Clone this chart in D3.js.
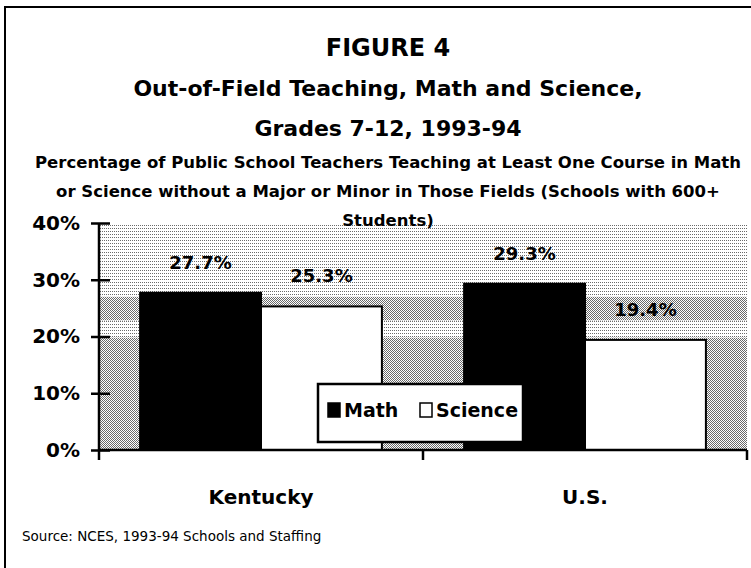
<!DOCTYPE html>
<html lang="en">
<head>
<meta charset="utf-8">
<title>Figure 4</title>
<script type="text/javascript" src="https://d3js.org/d3.v7.min.js"></script>
<style>
  body { margin: 0; background: #ffffff; }
  svg text { font-family: "Comic Sans MS", "DejaVu Sans", sans-serif; fill: #000; }
</style>
</head>
<body>
<div id="container"></div>
<script type="text/javascript">
// chart data
var categories = ["Kentucky", "U.S."];
var seriesNames = ["Math", "Science"];
var mathValues = [0.277, 0.293];
var scienceValues = [0.253, 0.194];
var yTicks = [0, 0.1, 0.2, 0.3, 0.4];

var titleLines = ["Out-of-Field Teaching, Math and Science,", "Grades 7-12, 1993-94"];
var subtitleLines = [
  "Percentage of Public School Teachers Teaching at Least One Course in Math",
  "or Science without a Major or Minor in Those Fields (Schools with 600+",
  "Students)"
];
var sourceText = "Source:  NCES, 1993-94 Schools and Staffing";

var w = 751, h = 568;
var svg = d3.select("#container").append("svg")
  .attr("width", w).attr("height", h)
  .style("background-color", "#ffffff");

// halftone-ish fills for the plot background
var defs = svg.append("defs");
var light = defs.append("pattern").attr("id", "light")
  .attr("patternUnits", "userSpaceOnUse").attr("width", 2).attr("height", 3);
light.append("rect").attr("width", 2).attr("height", 3).attr("fill", "#ffffff");
light.append("rect").attr("width", 1).attr("height", 1).attr("fill", "#6a6a6a");
var dense = defs.append("pattern").attr("id", "dense")
  .attr("patternUnits", "userSpaceOnUse").attr("width", 2).attr("height", 2);
dense.append("rect").attr("width", 2).attr("height", 2).attr("fill", "#ffffff");
dense.append("rect").attr("width", 1).attr("height", 1).attr("fill", "#6a6a6a");
dense.append("rect").attr("x", 1).attr("y", 1).attr("width", 1).attr("height", 1).attr("fill", "#6a6a6a");

// outer frame (runs off the right and bottom edges)
svg.append("rect")
  .attr("x", 5).attr("y", 7).attr("width", 800).attr("height", 620)
  .attr("fill", "none").attr("stroke", "#000").attr("stroke-width", 2);

// scales
var plotLeft = 99, plotRight = 747, plotTop = 223, plotBottom = 450;
var x0 = d3.scaleBand().domain(categories).range([plotLeft, plotRight]).paddingInner(0).paddingOuter(0);
var x1 = d3.scaleBand().domain(seriesNames).range([0, x0.bandwidth()]).paddingInner(0).paddingOuter(0.34);
var y = d3.scaleLinear().domain([0, 0.4]).range([plotBottom, plotTop]);

// plot background bands
var bgBands = [
  { from: 0.27, to: 0.4, fill: "url(#light)" },
  { from: 0.228, to: 0.27, fill: "url(#dense)" },
  { from: 0.198, to: 0.228, fill: "url(#light)" },
  { from: 0, to: 0.198, fill: "url(#dense)" }
];
svg.append("g").selectAll("rect").data(bgBands).enter().append("rect")
  .attr("x", plotLeft).attr("width", plotRight - plotLeft)
  .attr("y", function (d) { return y(d.to); })
  .attr("height", function (d) { return y(d.from) - y(d.to); })
  .attr("fill", function (d) { return d.fill; });

// titles (drawn after the background so "Students)" sits on top)
var cx = 388;
svg.append("text").attr("x", cx).attr("y", 56).attr("text-anchor", "middle")
  .style("font-size", "24px").style("font-weight", "bold").text("FIGURE 4");
svg.selectAll("text.title").data(titleLines).enter().append("text")
  .attr("class", "title")
  .attr("x", cx).attr("y", function (d, i) { return 96 + i * 40; })
  .attr("text-anchor", "middle")
  .style("font-size", "22px").style("font-weight", "bold")
  .text(function (d) { return d; });
svg.selectAll("text.sub").data(subtitleLines).enter().append("text")
  .attr("class", "sub")
  .attr("x", cx).attr("y", function (d, i) { return 168 + i * 29; })
  .attr("text-anchor", "middle")
  .style("font-size", "16.5px").style("font-weight", "bold")
  .text(function (d) { return d; });

// bars
var rows = categories.map(function (c, i) {
  return { cat: c, values: [
    { key: "Math", v: mathValues[i] },
    { key: "Science", v: scienceValues[i] }
  ] };
});
var groups = svg.append("g").selectAll("g").data(rows).enter().append("g")
  .attr("transform", function (d) { return "translate(" + x0(d.cat) + ",0)"; });
groups.selectAll("rect").data(function (d) { return d.values; }).enter().append("rect")
  .attr("x", function (d) { return x1(d.key); })
  .attr("y", function (d) { return y(d.v); })
  .attr("width", x1.bandwidth())
  .attr("height", function (d) { return y(0) - y(d.v); })
  .attr("fill", function (d) { return d.key === "Math" ? "#000" : "#fff"; })
  .attr("stroke", "#000").attr("stroke-width", 2);
groups.selectAll("text").data(function (d) { return d.values; }).enter().append("text")
  .attr("x", function (d) { return x1(d.key) + x1.bandwidth() / 2; })
  .attr("y", function (d) { return y(d.v) - 24; })
  .attr("text-anchor", "middle")
  .style("font-size", "18px").style("font-weight", "bold")
  .text(function (d) { return d3.format(".1%")(d.v); });

// y axis, ticks cross the line
var yAxis = svg.append("g").attr("transform", "translate(" + plotLeft + ",0)")
  .call(d3.axisLeft(y).tickValues(yTicks).tickFormat(d3.format(".0%")).tickSize(8).tickPadding(11));
yAxis.select(".domain").attr("stroke-width", 2.5).attr("d", "M0," + plotTop + "V" + plotBottom);
yAxis.selectAll(".tick line").attr("x1", 11).attr("stroke-width", 2.5);
yAxis.selectAll(".tick text").style("font-size", "20px").style("font-weight", "bold")
  .style("font-family", null);

// x axis
var xAxis = svg.append("g").attr("transform", "translate(0," + plotBottom + ")")
  .call(d3.axisBottom(x0).tickSize(0).tickPadding(40));
xAxis.select(".domain").attr("stroke-width", 2.5).attr("d", "M" + plotLeft + ",0H" + plotRight);
xAxis.selectAll(".tick text").style("font-size", "20px").style("font-weight", "bold")
  .style("font-family", null);
var edges = [x0(categories[0])].concat(categories.map(function (c) { return x0(c) + x0.bandwidth(); }));
xAxis.selectAll("line.edge").data(edges).enter().append("line")
  .attr("class", "edge")
  .attr("x1", function (d) { return d; }).attr("x2", function (d) { return d; })
  .attr("y1", 0).attr("y2", 10)
  .attr("stroke", "#000").attr("stroke-width", 2.5);

// legend
var lg = svg.append("g").attr("transform", "translate(318,384)");
lg.append("rect").attr("width", 205).attr("height", 58)
  .attr("fill", "#fff").attr("stroke", "#000").attr("stroke-width", 2.5);
var items = lg.selectAll("g").data(seriesNames).enter().append("g")
  .attr("transform", function (d, i) { return "translate(" + (10 + i * 92) + ",19)"; });
items.append("rect").attr("width", 12).attr("height", 14)
  .attr("fill", function (d) { return d === "Math" ? "#000" : "#fff"; })
  .attr("stroke", "#000").attr("stroke-width", 1.5);
items.append("text").attr("x", 16).attr("y", 14)
  .style("font-size", "19px").style("font-weight", "bold")
  .text(function (d) { return d; });

// source note
svg.append("text").attr("x", 22).attr("y", 541)
  .style("font-size", "13.5px").text(sourceText);
</script>
</body>
</html>
